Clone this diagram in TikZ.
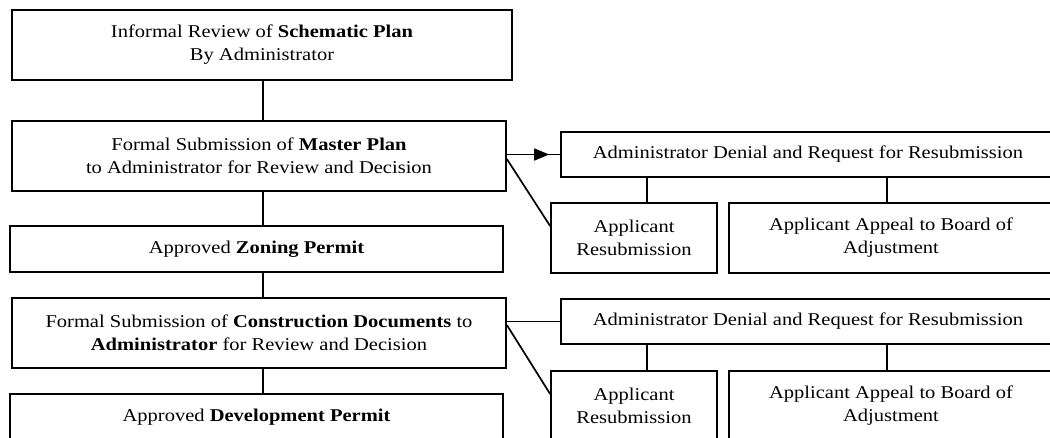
\documentclass[tikz,border=0pt]{standalone}
\usepackage{fontspec}
\setmainfont[FakeStretch=1.14]{Liberation Serif}
\usepackage{tikz}
\usetikzlibrary{arrows.meta}

\tikzset{
  stepbox/.style={draw, rectangle, line width=1.7pt, inner sep=0pt, align=center,
    font=\fontsize{18}{23}\selectfont},
  link/.style={line width=1.7pt}
}

\begin{document}
\begin{tikzpicture}[x=1pt, y=-1pt]
% Permit review flowchart
\useasboundingbox (0,0) rectangle (1050,437);
\clip (0,0) rectangle (1050,437);

\node[stepbox, minimum width=500pt, minimum height=70pt] (schematic) at (262,45) {Informal Review of \textbf{Schematic Plan}\\By Administrator};
\node[stepbox, minimum width=494pt, minimum height=70pt] (master) at (259,156) {Formal Submission of \textbf{Master Plan}\\to Administrator for Review and Decision};
\node[stepbox, minimum width=493pt, minimum height=46pt] (zoning) at (256.5,249) {Approved \textbf{Zoning Permit}};
\node[stepbox, minimum width=494pt, minimum height=70pt] (construct) at (259,333) {Formal Submission of \textbf{Construction Documents} to\\\textbf{Administrator} for Review and Decision};
\node[stepbox, minimum width=493pt, minimum height=46pt] (develop) at (256.5,417) {Approved \textbf{Development Permit}};

\node[stepbox, minimum width=494pt, minimum height=45pt] (denialA) at (808,154.5) {Administrator Denial and Request for Resubmission};
\node[stepbox, minimum width=166pt, minimum height=70pt] (resubA) at (634,238) {Applicant\\Resubmission};
\node[stepbox, minimum width=324pt, minimum height=70pt] (appealA) at (891,238) {Applicant Appeal to Board of\\Adjustment};

\node[stepbox, minimum width=494pt, minimum height=45pt] (denialB) at (808,321.5) {Administrator Denial and Request for Resubmission};
\node[stepbox, minimum width=166pt, minimum height=70pt] (resubB) at (634,406) {Applicant\\Resubmission};
\node[stepbox, minimum width=324pt, minimum height=70pt] (appealB) at (891,406) {Applicant Appeal to Board of\\Adjustment};

% main column
\draw[link] ([xshift=1pt]schematic.south) -- ([xshift=1pt]schematic.south |- master.north);
\draw[link] ([xshift=4pt]master.south) -- ([xshift=4pt]master.south |- zoning.north);
\draw[link] ([xshift=6.5pt]zoning.south) -- ([xshift=6.5pt]zoning.south |- construct.north);
\draw[link] ([xshift=4pt]construct.south) -- ([xshift=4pt]construct.south |- develop.north);

% master plan branch
\draw[link] (master.east |- denialA.west) -- (denialA.west);
\draw[link, -{Triangle[length=15pt, width=12pt]}, shorten >=11pt] (master.east |- denialA.west) -- (denialA.west);
\draw[link] ([yshift=-3pt]master.east) -- ([yshift=12pt]resubA.west);
\draw[link] ([xshift=13pt]resubA.north) -- ([xshift=13pt]resubA.north |- denialA.south);
\draw[link] ([xshift=-4pt]appealA.north) -- ([xshift=-4pt]appealA.north |- denialA.south);

% construction documents branch
\draw[link] (construct.east |- denialB.west) -- (denialB.west);
\draw[link] ([yshift=8pt]construct.east) -- ([yshift=12pt]resubB.west);
\draw[link] ([xshift=13pt]resubB.north) -- ([xshift=13pt]resubB.north |- denialB.south);
\draw[link] ([xshift=-4pt]appealB.north) -- ([xshift=-4pt]appealB.north |- denialB.south);
\end{tikzpicture}
\end{document}
